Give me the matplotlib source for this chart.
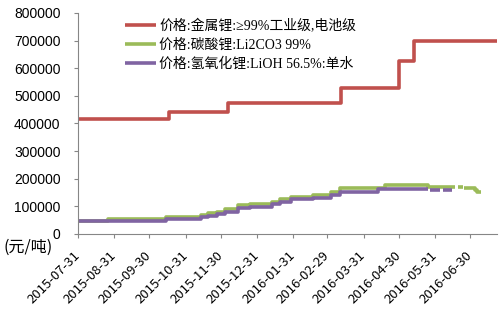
import numpy as np
import pandas as pd
import matplotlib
import matplotlib.pyplot as plt
from matplotlib.font_manager import FontProperties

plt.switch_backend('agg')

# step series: date where a new price starts, price (NaN = missing data)
metal_dates = ['2015-07-31', '2015-10-17', '2015-12-06', '2016-03-12',
               '2016-04-30', '2016-05-13', '2016-07-23']
metal_vals = [415000, 440000, 475000, 528000, 625000, 700000, 700000]

carb_dates = ['2015-07-31', '2015-08-26', '2015-10-14', '2015-10-26', '2015-11-13',
              '2015-11-19', '2015-11-27', '2015-12-04', '2015-12-15', '2015-12-25',
              '2016-01-13', '2016-01-20', '2016-01-29', '2016-02-17', '2016-03-03',
              '2016-03-11', '2016-04-18', '2016-05-25', '2016-06-17', '2016-06-20',
              '2016-06-24', '2016-06-25', '2016-07-04', '2016-07-06', '2016-07-09']
carb_vals = [48000, 53000, 60000, 63000, 70000,
             74000, 81000, 89000, 104000, 110000,
             115000, 126000, 135000, 141000, 152000,
             168000, 176000, 171000, np.nan, 169000,
             np.nan, 166000, 158000, 153000, 153000]

hyd_dates = ['2015-07-31', '2015-10-14', '2015-11-13', '2015-11-19', '2015-11-27',
             '2015-12-04', '2015-12-15', '2015-12-25', '2016-01-13', '2016-01-20',
             '2016-01-29', '2016-02-17', '2016-03-03', '2016-03-11', '2016-04-12',
             '2016-05-25', '2016-05-27', '2016-06-04', '2016-06-07', '2016-06-15']
hyd_vals = [48000, 54000, 60000, 64000, 72000,
            81000, 93000, 99000, 108000, 115000,
            126000, 129000, 141000, 153000, 162000,
            np.nan, 158000, np.nan, 158000, 158000]

labels = ['价格:金属锂:≥99%工业级,电池级', '价格:碳酸锂:Li2CO3 99%', '价格:氢氧化锂:LiOH 56.5%:单水']
colors = ['#C0504D', '#9BBB59', '#8064A2']

tick_dates = ['2015-07-31', '2015-08-31', '2015-09-30', '2015-10-31', '2015-11-30',
              '2015-12-31', '2016-01-31', '2016-02-29', '2016-03-31', '2016-04-30',
              '2016-05-31', '2016-06-30']

fig = plt.figure(figsize=(5.02, 3.09), dpi=100)
ax = fig.add_axes([0.155, 0.243, 0.835, 0.715])

series = [(metal_dates, metal_vals), (carb_dates, carb_vals), (hyd_dates, hyd_vals)]
for (d, v), lab, c in zip(series, labels, colors):
    ax.plot(pd.to_datetime(d), v, drawstyle='steps-post', color=c, lw=2.6,
            label=lab, solid_capstyle='butt')

ax.set_xlim(pd.Timestamp('2015-07-31'), pd.Timestamp('2016-07-23'))
ax.set_ylim(0, 800000)
ax.set_yticks(range(0, 800001, 100000))
ax.set_yticklabels([str(v) for v in range(0, 800001, 100000)],
                   fontfamily='Liberation Sans', fontsize=10)
ax.set_xticks(pd.to_datetime(tick_dates))
ax.set_xticklabels(tick_dates, rotation=45, ha='right', va='center',
                   rotation_mode='anchor', fontfamily='Noto Sans CJK SC', fontsize=9.5)

for s in ['top', 'right']:
    ax.spines[s].set_visible(False)
for s in ['left', 'bottom']:
    ax.spines[s].set_color('#868686')
    ax.spines[s].set_linewidth(0.8)
ax.tick_params(axis='both', direction='out', color='#868686', length=3, width=0.8)
ax.tick_params(axis='y', pad=9.5)
ax.tick_params(axis='x', pad=11)

prop = FontProperties(family=['Liberation Serif', 'Noto Sans CJK SC'], size=10)
ax.legend(loc='upper left', bbox_to_anchor=(125 / 502, 1 - 19 / 309),
          bbox_transform=fig.transFigure, frameon=False, prop=prop,
          borderpad=0, borderaxespad=0, handlelength=2.2, handletextpad=0.25,
          labelspacing=0.4)

fig.text(0.006, 1 - 247 / 309, '(元/吨)', fontfamily='Noto Sans CJK SC',
         fontsize=11.5, va='center', ha='left')

plt.savefig('out.png', dpi=100)
